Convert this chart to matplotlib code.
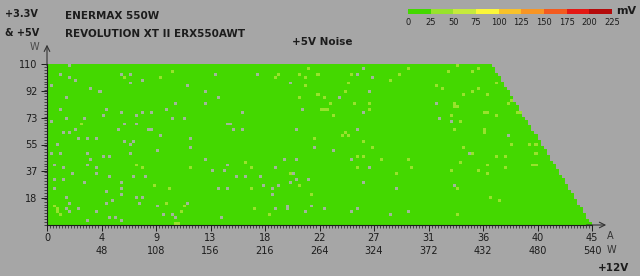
import numpy as np
import matplotlib.pyplot as plt
from matplotlib.colors import ListedColormap, BoundaryNorm
from matplotlib.cm import ScalarMappable

# colour scale of the legend strip (mV)
scale_mv = [0, 25, 50, 75, 100, 125, 150, 175, 200, 225]
scale_colors = ['#44d800', '#98e22c', '#c6ea3c', '#fbf73a', '#f8c22a',
                '#f79524', '#f35a1e', '#e41814', '#b40a0a']

# +12V axis (A / W) and +3.3V & +5V axis (W)
amp_ticks = [0, 4.5, 9, 13.5, 18, 22.5, 27, 31.5, 36, 40.5, 45]
amp_labels = ['0', '4', '9', '13', '18', '22', '27', '31', '36', '40', '45']
watt12_labels = ['', '48', '108', '156', '216', '264', '324', '372', '432', '480', '540']
w5_ticks = [18.33, 36.67, 55, 73.33, 91.67, 110]
w5_labels = ['18', '37', '55', '73', '92', '110']

# edge of the tested load area: max +12V current for a given 3.3V&5V load
limit_w = [0, 110]
limit_a = [45.0, 36.7]

cell_a = 0.25
cell_w = 2
base_mv = 10    # ripple over nearly the whole area
peak_mv = 35    # the lighter cells

# cells with a somewhat higher reading (A, W)
light_cells = [
    (6.44, 101.1), (9.33, 101.1), (10.40, 105.9), (2.89, 69.7), (21.72, 107.9),
    (19.24, 103.8), (18.99, 101.1), (20.97, 102.5), (21.39, 100.4), (22.29, 102.5),
    (21.39, 95.0), (25.10, 103.8), (28.40, 98.4), (29.07, 102.5), (29.97, 107.9),
    (24.77, 97.0), (24.52, 90.9), (22.29, 89.5), (20.97, 87.4), (22.95, 86.1),
    (23.45, 82.0), (22.79, 79.9), (23.20, 78.6), (22.62, 78.6), (23.70, 74.5),
    (25.27, 82.0), (26.67, 83.4), (26.67, 79.9), (22.13, 58.1), (24.44, 60.1),
    (24.77, 60.1), (24.61, 62.2), (26.17, 56.0), (7.35, 41.0), (7.84, 39.6),
    (11.81, 38.3), (8.92, 27.3), (10.24, 24.6), (9.99, 15.7), (11.31, 13.7),
    (11.15, 8.2), (0.58, 13.7), (0.91, 10.2), (0.91, 8.2), (1.24, 6.8),
    (10.73, 0.7), (10.98, 0.7), (16.27, 43.7), (16.93, 38.3), (20.15, 35.5),
    (16.76, 24.6), (20.81, 26.6), (21.88, 20.5), (17.17, 11.6), (18.33, 6.1),
    (26.09, 56.0), (26.84, 52.6), (25.68, 47.1), (26.17, 47.1), (27.66, 45.1),
    (29.81, 45.8), (30.06, 39.6), (25.68, 38.3), (26.67, 38.3), (28.82, 34.2),
    (34.43, 52.6), (35.01, 48.5), (37.07, 47.1), (37.98, 47.1), (38.48, 54.0),
    (39.80, 54.0), (40.38, 54.0), (40.46, 48.5), (34.18, 43.7), (36.41, 41.0),
    (37.98, 39.6), (35.59, 37.6), (36.41, 35.5), (33.28, 37.6), (30.22, 39.6),
    (40.21, 41.0), (33.85, 25.3), (36.74, 19.1), (37.32, 17.8), (33.77, 6.8),
    (33.77, 109.0), (35.59, 107.9), (35.09, 104.5), (33.11, 104.5), (32.20, 95.0),
    (32.70, 93.6), (34.27, 89.5), (35.09, 91.5), (35.67, 93.6), (36.25, 89.5),
    (37.16, 97.0), (33.69, 83.4), (33.69, 80.6), (33.85, 80.6), (32.20, 82.7),
    (33.44, 75.2), (36.00, 76.5), (36.33, 76.5), (37.16, 75.2), (34.10, 71.1),
    (38.15, 82.7), (38.48, 85.4), (38.81, 77.9), (39.22, 76.5), (36.00, 65.6),
    (33.69, 65.6), (36.17, 62.2), (40.46, 41.7),
]

# cells without a reading (A, W)
gap_cells = [
    (1.90, 108.6), (1.24, 102.5), (2.48, 98.4), (0.41, 95.6), (1.98, 101.1),
    (3.55, 93.6), (4.46, 90.9), (1.57, 87.4), (6.19, 103.8), (6.94, 103.8),
    (6.94, 97.0), (7.84, 98.4), (11.56, 95.0), (13.87, 102.5), (13.21, 90.9),
    (14.12, 87.4), (13.21, 82.7), (10.73, 82.7), (9.91, 79.9), (1.07, 79.9),
    (4.87, 79.9), (6.03, 77.9), (7.84, 77.9), (8.67, 77.9), (7.43, 74.5),
    (4.71, 74.5), (1.57, 73.1), (3.06, 73.1), (10.32, 73.1), (11.31, 73.1),
    (0.41, 70.4), (6.44, 69.0), (7.35, 69.0), (14.95, 69.7), (5.78, 65.6),
    (8.26, 65.6), (8.67, 65.6), (1.49, 63.5), (1.98, 62.9), (2.48, 65.6),
    (9.33, 61.5), (2.64, 58.1), (3.30, 58.1), (4.21, 58.1), (6.44, 56.0),
    (7.10, 56.7), (11.81, 58.1), (17.42, 103.8), (20.15, 97.0), (24.19, 87.4),
    (26.09, 106.6), (25.60, 103.8), (26.84, 101.8), (26.67, 90.9), (16.02, 76.5),
    (15.44, 65.6), (16.02, 65.6), (20.73, 65.6), (15.11, 69.7), (21.06, 78.6),
    (26.09, 76.5), (25.68, 64.9), (0.91, 54.7), (0.41, 48.5), (1.07, 48.5),
    (3.30, 48.5), (3.63, 45.1), (4.71, 46.5), (5.12, 46.5), (6.85, 48.5),
    (6.94, 55.3), (9.08, 51.9), (11.81, 52.6), (13.21, 44.4), (13.71, 37.6),
    (14.53, 37.6), (4.13, 38.9), (4.21, 34.8), (0.74, 41.0), (1.32, 39.6),
    (3.30, 41.0), (2.06, 34.2), (0.66, 31.4), (1.32, 31.4), (3.14, 28.0),
    (5.04, 32.1), (6.19, 28.0), (6.19, 24.6), (6.19, 20.5), (7.10, 32.8),
    (8.01, 32.1), (4.95, 22.5), (7.43, 19.8), (7.84, 19.1), (1.73, 19.8),
    (1.90, 14.3), (4.95, 15.0), (5.45, 16.4), (0.66, 24.6), (1.57, 10.2),
    (1.90, 8.2), (2.56, 10.2), (4.21, 8.2), (7.51, 14.3), (9.17, 13.7),
    (9.58, 7.5), (10.40, 6.1), (10.57, 4.1), (3.39, 2.7), (6.19, 2.7),
    (5.61, 4.1), (5.04, 4.1), (11.64, 14.3), (14.12, 24.6), (14.86, 24.6),
    (14.28, 4.1), (22.21, 52.6), (23.62, 50.6), (19.65, 45.1), (20.56, 45.8),
    (25.02, 45.8), (14.95, 41.0), (15.52, 32.1), (16.27, 32.1), (17.67, 32.1),
    (18.99, 39.6), (17.92, 26.6), (18.50, 24.6), (18.50, 21.2), (19.24, 26.6),
    (20.15, 28.0), (20.73, 30.7), (21.72, 30.7), (20.31, 35.5), (26.17, 28.0),
    (26.67, 39.6), (28.82, 24.6), (19.82, 13.7), (19.82, 10.2), (18.83, 11.6),
    (21.80, 13.7), (21.47, 8.2), (22.79, 11.6), (25.10, 8.2), (25.51, 11.6),
    (28.40, 6.1), (29.97, 8.2), (14.95, 24.6), (33.69, 27.3), (32.20, 83.4),
    (32.45, 73.1), (33.44, 71.7), (38.15, 61.5), (34.85, 49.2),
]

bg = '#a6a6a6'
txt = '#1c1c1c'

# grid of measured cells
a_edges = np.arange(0, 45 + cell_a / 2, cell_a)
w_edges = np.arange(0, 110 + cell_w / 2, cell_w)
a_mid = (a_edges[:-1] + a_edges[1:]) / 2
w_mid = (w_edges[:-1] + w_edges[1:]) / 2
A, W = np.meshgrid(a_mid, w_mid)
inside = A <= np.interp(W, limit_w, limit_a)
noise = np.where(inside, float(base_mv), np.nan)
gaps = np.full(noise.shape, np.nan)


def cell(a, w):
    r = min(int(w // cell_w), len(w_mid) - 1)
    c = min(int(a // cell_a), len(a_mid) - 1)
    return r, c


for a, w in light_cells:
    noise[cell(a, w)] = peak_mv
for a, w in gap_cells:
    r, c = cell(a, w)
    if inside[r, c]:
        gaps[r, c] = 1

cmap = ListedColormap(scale_colors)
cmap.set_bad((0, 0, 0, 0))
norm = BoundaryNorm(scale_mv, cmap.N)

fig = plt.figure(figsize=(6.4, 2.76), dpi=100, facecolor=bg)
ax = fig.add_axes([47 / 640, 51 / 276, 545 / 640, 161 / 276])
ax.set_facecolor(bg)
ax.pcolormesh(a_edges, w_edges, np.ma.masked_invalid(noise), cmap=cmap, norm=norm)
ax.pcolormesh(a_edges, w_edges, np.ma.masked_invalid(gaps),
              cmap=ListedColormap(['#a2b69a']), vmin=0, vmax=2)
ax.set_xlim(0, 45)
ax.set_ylim(0, 110)

ax.set_xticks(amp_ticks)
ax.set_xticklabels([a if not w else f'{a}\n{w}' for a, w in zip(amp_labels, watt12_labels)],
                   linespacing=1.45)
ax.set_yticks(w5_ticks)
ax.set_yticklabels(w5_labels)
ax.set_xticks(a_edges, minor=True)
ax.set_yticks(w_edges, minor=True)
ax.tick_params(which='major', length=4, width=0.7, labelsize=7, colors=txt, pad=3)
ax.tick_params(axis='x', which='major', pad=1.5)
ax.tick_params(which='minor', length=2, width=0.5, color=txt)
for t in ax.get_xticklabels():
    t.set_verticalalignment('top')
for s in ['top', 'right']:
    ax.spines[s].set_visible(False)
for s in ['left', 'bottom']:
    ax.spines[s].set_color(txt)
    ax.spines[s].set_linewidth(0.8)

ax.annotate('', xy=(1.026, 0), xytext=(0.99, 0), xycoords='axes fraction',
            arrowprops=dict(arrowstyle='->', color='#333333', lw=0.8,
                            shrinkA=0, shrinkB=0))
ax.annotate('', xy=(0, 1.12), xytext=(0, 0.99), xycoords='axes fraction',
            arrowprops=dict(arrowstyle='->', color='#333333', lw=0.8,
                            shrinkA=0, shrinkB=0))

# legend strip
cax = fig.add_axes([408 / 640, 1 - 14 / 276, 204 / 640, 5 / 276])
cb = fig.colorbar(ScalarMappable(norm=norm, cmap=cmap), cax=cax,
                  orientation='horizontal', ticks=scale_mv)
cb.outline.set_visible(False)
cax.tick_params(length=0, labelsize=6, colors=txt, pad=3)


def ftext(x, y, s, color=txt, **kw):
    fig.text(x / 640, 1 - y / 276, s, va='center', color=color, **kw)


ftext(616, 11, 'mV', fontsize=8, fontweight='bold')
ftext(5, 14, '+3.3V', fontsize=7, fontweight='bold')
ftext(5, 33, '& +5V', fontsize=7, fontweight='bold')
ftext(30, 47, 'W', fontsize=7, color='#4a4a4a')
ftext(65, 16, 'ENERMAX 550W', fontsize=7.5, fontweight='bold')
ftext(65, 34, 'REVOLUTION XT II ERX550AWT', fontsize=7.5, fontweight='bold')
ftext(292, 42, '+5V Noise', fontsize=7.5, fontweight='bold')
ftext(607, 236, 'A', fontsize=7, color='#333333')
ftext(607, 250, 'W', fontsize=7, color='#333333')
ftext(598, 268, '+12V', fontsize=7.5, fontweight='bold')

fig.savefig('out.png', dpi=100, facecolor=bg)
